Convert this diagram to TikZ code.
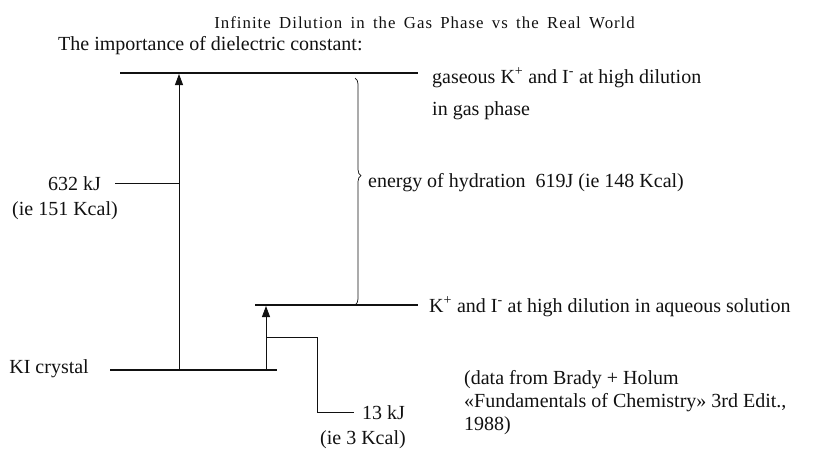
\documentclass[tikz,border=0pt]{standalone}
\usepackage{fontspec}
\setmainfont{Liberation Serif}
\newfontfamily\titlefont[LetterSpace=6,WordSpace=1.6]{Liberation Serif}
\usepackage{xcolor}
\usepackage{tikz}
\usetikzlibrary{positioning,arrows.meta,decorations.pathreplacing}
\definecolor{cink}{HTML}{111111}

\begin{document}
\begin{tikzpicture}[x=1pt,y=-1pt,
    lbl/.style={text=cink,font=\fontsize{20}{23}\selectfont,inner sep=0pt,anchor=base west},
    level/.style={draw=cink,line width=1.6pt},
    rise/.style={draw=cink,line width=0.8pt,-{Triangle[length=11pt,width=8pt]}},
    tick/.style={draw=cink,line width=0.9pt}]
  \useasboundingbox (0,0) rectangle (813,453);
  \node[text=cink,font=\titlefont\fontsize{16.8}{20}\selectfont,inner sep=0pt,anchor=base east] (title) at (635,28) {Infinite Dilution in the Gas Phase vs the Real World};
  \node[lbl] (intro) at (58,50) {The importance of dielectric constant:};
  % energy levels
  \coordinate (gasL) at (120,73);
  \coordinate (gasR) at (418,73);
  \coordinate (aqL) at (255,305);
  \coordinate (aqR) at (418,305);
  \coordinate (crL) at (110,370);
  \coordinate (crR) at (277,370);
  \draw[level] (gasL) -- (gasR);
  \draw[level] (aqL) -- (aqR);
  \draw[level] (crL) -- (crR);
  \node[lbl] (gas) at (432,83) {gaseous K\textsuperscript{+} and I\textsuperscript{-} at high dilution};
  \node[lbl] (gas2) at (432,115) {in gas phase};
  \node[lbl] (aq) at (429,312) {K\textsuperscript{+} and I\textsuperscript{-} at high dilution in aqueous solution};
  \node[lbl,anchor=base east] (cr) at (89,373) {KI crystal};
  % transitions
  \coordinate (bigA) at (179,370);
  \coordinate (bigB) at (179,74);
  \coordinate (smA) at (266,370);
  \coordinate (smB) at (266,306);
  \draw[rise] (bigA) -- (bigB);
  \draw[rise] (smA) -- (smB);
  \node[lbl] (e632) at (48,190) {632 kJ};
  \node[lbl] (e632b) at (12,215) {(ie 151 Kcal)};
  \coordinate (e632t) at (179,183);
  \draw[tick] ([xshift=14pt,yshift=7pt]e632.base east) -- (e632t);
  \coordinate (smK) at (266,337);
  \node[lbl] (e13) at (362,419) {13 kJ};
  \node[lbl] (e13b) at (320,444) {(ie 3 Kcal)};
  \draw[tick] (smK) -- (317,337) |- ([xshift=-8pt,yshift=7pt]e13.base west);
  % hydration brace
  \coordinate (brT) at (355,78);
  \coordinate (brB) at (355,305);
  \draw[cink,line width=0.7pt,decorate,decoration={brace,amplitude=6pt,aspect=0.43}] (brT) -- (brB);
  \node[lbl] (hyd) at (368,187) {energy of hydration\ \ 619J (ie 148 Kcal)};
  % source
  \node[lbl,anchor=north west,align=left] (src) at (464,370) {(data from Brady + Holum\\%
    «Fundamentals of Chemistry» 3rd Edit.,\\1988)};
\end{tikzpicture}
\end{document}
